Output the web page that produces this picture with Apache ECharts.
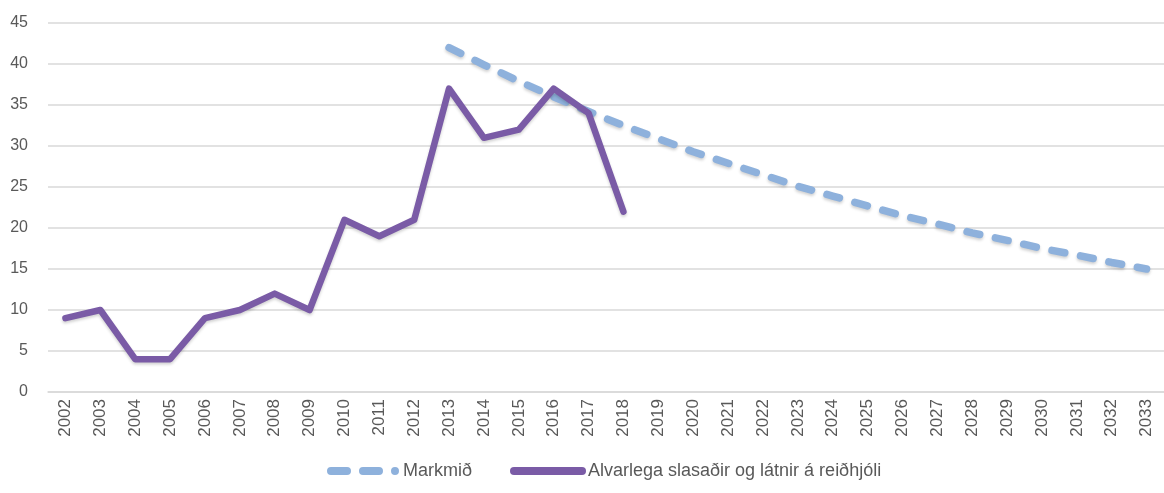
<!DOCTYPE html>
<html>
<head>
<meta charset="utf-8">
<script src="https://cdn.jsdelivr.net/npm/echarts@6/dist/echarts.min.js"></script>
<style>
  html, body { margin: 0; padding: 0; background: #ffffff; }
  #chart { width: 1164px; height: 493px; }
</style>
</head>
<body>
<div id="chart"></div>
<script>
// Years on the horizontal axis
const years = ['2002','2003','2004','2005','2006','2007','2008','2009','2010','2011','2012',
  '2013','2014','2015','2016','2017','2018','2019','2020','2021','2022','2023','2024',
  '2025','2026','2027','2028','2029','2030','2031','2032','2033'];

// Seriously injured and killed cyclists, 2002–2018
const injured = [9, 10, 4, 4, 9, 10, 12, 10, 21, 19, 21, 37, 31, 32, 37, 34, 22];

// Target path, 2013–2033
const targetYears = ['2013','2014','2015','2016','2017','2018','2019','2020','2021','2022','2023',
  '2024','2025','2026','2027','2028','2029','2030','2031','2032','2033'];
const target = [42, 39.9, 37.9, 36.0, 34.2, 32.5, 30.9, 29.3, 27.9, 26.5, 25.1,
  23.9, 22.7, 21.5, 20.5, 19.4, 18.5, 17.5, 16.7, 15.8, 15.0];

const seriesNames = ['Markmið', 'Alvarlega slasaðir og látnir á reiðhjóli'];

const font = '"Liberation Sans Narrow", "Liberation Sans", Arial, sans-serif';
const textColor = '#595959';
const blue = '#8eb1dc';
const purple = '#7a5ba6';

// Legend keys: two rounded dashes and a dot, and one rounded bar
const dashedIcon = 'path://M4,0L20,0A4,4 0 0 1 20,8L4,8A4,4 0 0 1 4,0Z' +
  'M36,0L52,0A4,4 0 0 1 52,8L36,8A4,4 0 0 1 36,0Z' +
  'M68,0A4,4 0 0 1 68,8A4,4 0 0 1 68,0Z';
const solidIcon = 'path://M4,0L72,0A4,4 0 0 1 72,8L4,8A4,4 0 0 1 4,0Z';

const chart = echarts.init(document.getElementById('chart'), null, { renderer: 'canvas' });

chart.setOption({
  animation: false,
  textStyle: { fontFamily: font },
  grid: { left: 48, right: -11, top: 23, bottom: 101, containLabel: false },
  xAxis: {
    type: 'category',
    data: years,
    boundaryGap: true,
    axisLine: { show: true, lineStyle: { color: '#d9d9d9', width: 1.5 } },
    axisTick: { show: false },
    axisLabel: { rotate: 90, color: textColor, fontSize: 17, fontFamily: font, margin: 7, interval: 0 }
  },
  yAxis: {
    type: 'value',
    min: 0, max: 45, interval: 5,
    axisLine: { show: false },
    axisTick: { show: false },
    axisLabel: { color: textColor, fontSize: 16, fontFamily: font, margin: 20 },
    splitLine: { lineStyle: { color: '#d9d9d9', width: 1.5 } }
  },
  legend: {
    bottom: 8,
    left: 322,
    itemGap: 38,
    itemWidth: 76,
    itemHeight: 8,
    textStyle: { color: textColor, fontSize: 18, fontFamily: font, padding: [0, 0, 0, -3] },
    data: [
      { name: seriesNames[0], icon: dashedIcon, itemStyle: { color: blue } },
      { name: seriesNames[1], icon: solidIcon, itemStyle: { color: purple } }
    ]
  },
  series: [
    {
      name: seriesNames[0],
      type: 'line',
      data: targetYears.map((y, i) => [y, target[i]]),
      showSymbol: false,
      symbol: 'none',
      lineStyle: {
        color: blue, width: 7.5, type: [13, 16], cap: 'round', join: 'round',
        shadowColor: 'rgba(0,0,0,0.18)', shadowBlur: 3, shadowOffsetY: 2
      },
      itemStyle: { color: blue },
      z: 2
    },
    {
      name: seriesNames[1],
      type: 'line',
      data: injured,
      showSymbol: false,
      symbol: 'none',
      lineStyle: {
        color: purple, width: 6.5, cap: 'round', join: 'round',
        shadowColor: 'rgba(0,0,0,0.18)', shadowBlur: 3, shadowOffsetY: 2
      },
      itemStyle: { color: purple },
      z: 3
    }
  ]
});
</script>
</body>
</html>
